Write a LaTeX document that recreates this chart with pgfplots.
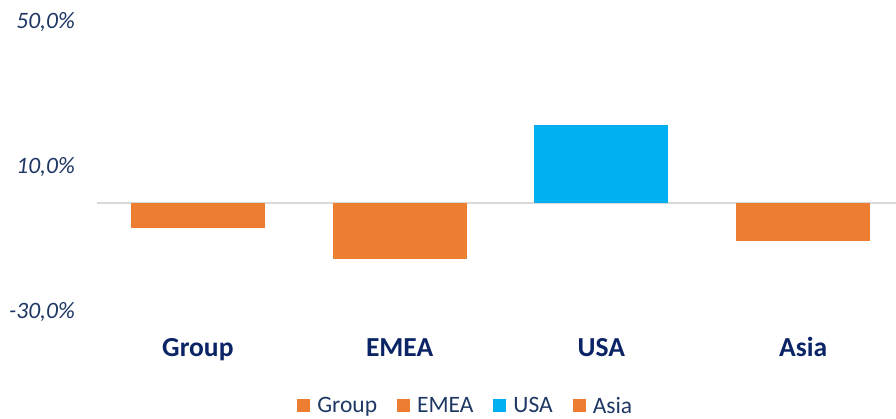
\documentclass[border=0pt]{standalone}
\usepackage{pgfplots}
\pgfplotsset{compat=1.18}
\usepackage{fontspec}
\setmainfont{Carlito}
\definecolor{orangeC}{HTML}{ED7D31}
\definecolor{blueC}{HTML}{00B0F0}
\definecolor{navyT}{HTML}{1F3864}
\definecolor{navyB}{HTML}{0B2466}
\definecolor{zeroL}{HTML}{D9D9D9}
\begin{document}
\begin{tikzpicture}
\useasboundingbox (-97pt,-106.3pt) rectangle (799pt,311.7pt);
\begin{axis}[
  at={(0pt,0pt)}, anchor=south west,
  scale only axis,
  width=807pt, height=290pt,
  xmin=-0.5, xmax=3.5,
  ymin=-30, ymax=50,
  axis line style={draw=none},
  major tick length=0pt,
  xtick={0,1,2,3},
  xticklabels={Group,EMEA,USA,Asia},
  xticklabel style={anchor=base, inner sep=0pt, yshift=-45pt,
    font=\fontsize{27.5}{30}\selectfont\bfseries, text=navyB},
  ytick={-30,10,50},
  yticklabels={{-30,0\%},{10,0\%},{50,0\%}},
  yticklabel style={anchor=east, inner sep=0pt, xshift=-22pt,
    font=\fontsize{23.5}{26}\selectfont\itshape, text=navyT},
  extra y ticks={0},
  extra y tick labels={},
  extra y tick style={grid=major, major grid style={draw=zeroL, line width=2pt}},
  legend columns=4,
  legend style={draw=none, fill=none, at={(0.457,-0.3245)}, anchor=center,
    font=\fontsize{23.5}{26}\selectfont, text=navyT,
    /tikz/every even column/.append style={column sep=18pt},
    inner sep=0pt},
  legend image code/.code={\path[draw=none,fill=none] (0pt,-6.5pt) rectangle (18pt,6.5pt);\fill[#1,draw=none] (0pt,-6.5pt) rectangle (13pt,6.5pt);},
]
\addplot[ybar, bar shift=0pt, bar width=134pt, fill=orangeC, draw=none] coordinates {(0,-7.0)};
\addlegendentry{Group}
\addplot[ybar, bar shift=0pt, bar width=134pt, fill=orangeC, draw=none] coordinates {(1,-15.5)};
\addlegendentry{EMEA}
\addplot[ybar, bar shift=0pt, bar width=134pt, fill=blueC, draw=none] coordinates {(2,21.5)};
\addlegendentry{USA}
\addplot[ybar, bar shift=0pt, bar width=134pt, fill=orangeC, draw=none] coordinates {(3,-10.6)};
\addlegendentry{Asia}
\end{axis}
\end{tikzpicture}
\end{document}
